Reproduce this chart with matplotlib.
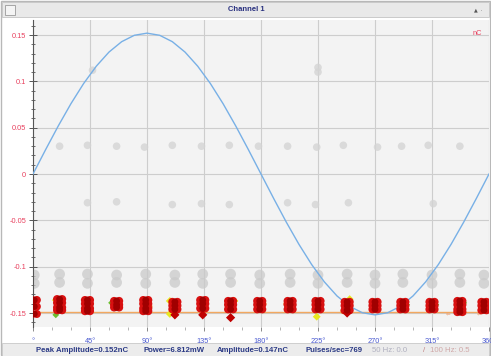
import matplotlib
matplotlib.use("Agg")
import matplotlib.pyplot as plt
from matplotlib.patches import Rectangle
from matplotlib.ticker import MultipleLocator

plt.rcParams["font.family"] = ["Liberation Sans", "DejaVu Sans"]

# ---------------- data ----------------
sine_phase = list(range(0, 361, 10))
sine_amp = [0.0, 0.0264, 0.0520, 0.0760, 0.0977, 0.1164, 0.1316, 0.1428, 0.1497, 0.152,
            0.1497, 0.1428, 0.1316, 0.1164, 0.0977, 0.0760, 0.0520, 0.0264, 0.0,
            -0.0264, -0.0520, -0.0760, -0.0977, -0.1164, -0.1316, -0.1428, -0.1497, -0.152,
            -0.1497, -0.1428, -0.1316, -0.1164, -0.0977, -0.0760, -0.0520, -0.0264, 0.0]

# faint grey pulses (upper rows)
gray_hi_phase = [21, 43, 66, 88, 110, 133, 155, 178, 201, 224, 245, 272, 291, 312, 337,
                 43, 66, 110, 133, 155, 201, 223, 249, 316,
                 47, 225, 225]
gray_hi_amp = [0.030, 0.031, 0.030, 0.029, 0.031, 0.030, 0.031, 0.030, 0.030, 0.029, 0.031, 0.029, 0.030, 0.031, 0.030,
               -0.031, -0.030, -0.033, -0.032, -0.033, -0.031, -0.033, -0.031, -0.032,
               0.112, 0.115, 0.110]
# denser grey pulses (lower row)
gray_lo_phase = [1, 21, 43, 66, 89, 112, 134, 156, 179, 203, 225, 248, 270, 292, 315, 337, 356,
                 1, 21, 43, 66, 89, 112, 134, 156, 179, 203, 225, 248, 270, 292, 315, 337, 356]
gray_lo_amp = [-0.109, -0.108, -0.108, -0.109, -0.108, -0.109, -0.108, -0.108, -0.109, -0.108, -0.109, -0.108, -0.109, -0.108, -0.109, -0.108, -0.109,
               -0.118, -0.117, -0.118, -0.117, -0.118, -0.117, -0.118, -0.117, -0.118, -0.117, -0.118, -0.117, -0.118, -0.117, -0.118, -0.117, -0.118]

red_phase = [1, 21, 43, 66, 89, 112, 134, 156, 179, 203, 225, 248, 270, 292, 315, 337, 356]
red_amps = [
    [-0.136, -0.143, -0.151],
    [-0.135, -0.139, -0.144, -0.147],
    [-0.136, -0.140, -0.145, -0.148],
    [-0.137, -0.141, -0.144],
    [-0.136, -0.140, -0.145, -0.148],
    [-0.138, -0.142, -0.146],
    [-0.136, -0.140, -0.145],
    [-0.137, -0.141, -0.146],
    [-0.137, -0.141, -0.146],
    [-0.137, -0.141, -0.146],
    [-0.137, -0.141, -0.146],
    [-0.138, -0.142, -0.147],
    [-0.138, -0.142, -0.146],
    [-0.138, -0.142, -0.146],
    [-0.138, -0.142, -0.146],
    [-0.137, -0.141, -0.146, -0.149],
    [-0.138, -0.142, -0.147],
]
red_low_phase = [112, 134, 156, 248]
red_low_amp = [-0.152, -0.152, -0.155, -0.150]

yellow_phase = [18, 41, 108, 108, 159, 224, 250]
yellow_amp = [-0.136, -0.148, -0.137, -0.151, -0.137, -0.154, -0.135]
green_phase = [18, 62, 295, 318, 340, 359]
green_amp = [-0.152, -0.139, -0.141, -0.141, -0.139, -0.141]
orange_phase = [92, 182, 200, 245]
orange_amp = [-0.143, -0.140, -0.140, -0.148]

threshold = -0.149

x_ticks = [0, 45, 90, 135, 180, 225, 270, 315, 360]
x_labels = ["°", "45°", "90°", "135°", "180°", "225°", "270°", "315°", "360°"]
y_ticks = [-0.15, -0.1, -0.05, 0, 0.05, 0.1, 0.15]
y_labels = ["-0.15", "-0.1", "-0.05", "0", "0.05", "0.1", "0.15"]

status_items = ["Peak Amplitude=0.152nC", "Power=6.812mW", "Amplitude=0.147nC", "Pulses/sec=769"]
status_faded = ["50 Hz: 0.0", "/", "100 Hz: 0.5"]

# ---------------- figure ----------------
W, H = 491, 356
fig = plt.figure(figsize=(W / 100, H / 100), dpi=100)
fig.patch.set_facecolor("white")

def fx(px):
    return px / W

def fy(py):
    return 1 - py / H

# window frame / title bar
fig.patches.append(Rectangle((fx(1), fy(355)), fx(489), 354 / H, transform=fig.transFigure,
                             facecolor="white", edgecolor="#b8b8b8", lw=1.0, zorder=-5))
fig.patches.append(Rectangle((fx(2), fy(17)), fx(487), 15 / H, transform=fig.transFigure,
                             facecolor="#e9e9e9", edgecolor="#c4c4c4", lw=0.6, zorder=-4))
fig.patches.append(Rectangle((fx(5), fy(15)), fx(10), 10 / H, transform=fig.transFigure,
                             facecolor="#f4f4f4", edgecolor="#9a9a9a", lw=0.6, zorder=-3))
fig.text(fx(246), fy(9.5), "Channel 1", color="#28307f", fontsize=5.5, fontweight="bold",
         ha="center", va="center")
fig.text(fx(478), fy(9.5), "▲  ·", color="#555555", fontsize=3.5, ha="center", va="center",
         family="DejaVu Sans")

# status bar
fig.patches.append(Rectangle((fx(2), fy(356)), fx(487), 13 / H, transform=fig.transFigure,
                             facecolor="#ececec", edgecolor="#c8c8c8", lw=0.6, zorder=-4))
status_x = [36, 143, 217, 305]
for t, x in zip(status_items, status_x):
    fig.text(fx(x), fy(350), t, color="#2b3a85", fontsize=5.6, fontweight="bold",
             ha="left", va="center")
faded_x = [372, 423, 430]
faded_c = ["#b0b0c0", "#c08080", "#d0a8a8"]
for t, x, c in zip(status_faded, faded_x, faded_c):
    fig.text(fx(x), fy(350), t, color=c, fontsize=5.6, ha="left", va="center")

# axes
ax = fig.add_axes([fx(33), fy(327), fx(456), 307 / H])
ax.set_zorder(2)
ax.set_facecolor("#f3f3f3")
ax.set_xlim(0, 360)
ax.set_ylim(-0.1651, 0.1662)

ax.set_xticks(x_ticks)
ax.set_xticklabels(x_labels)
ax.set_yticks(y_ticks)
ax.set_yticklabels(y_labels)
ax.xaxis.set_minor_locator(MultipleLocator(15))
ax.yaxis.set_minor_locator(MultipleLocator(0.01))
ax.grid(True, which="major", color="#cdcdcd", lw=0.8)
ax.set_axisbelow(True)

ax.tick_params(axis="y", which="major", direction="inout", length=6, width=0.7,
               color="#555555", labelsize=5.3, labelcolor="#e8405e", pad=2)
ax.tick_params(axis="y", which="minor", direction="inout", length=3, width=0.6, color="#555555")
ax.tick_params(axis="x", which="major", direction="out", length=3, width=0.6,
               color="#777777", labelsize=5.3, labelcolor="#4a5ad0", pad=5)
ax.tick_params(axis="x", which="minor", direction="out", length=2, width=0.5, color="#999999")

for s in ["top", "right", "bottom"]:
    ax.spines[s].set_visible(False)
ax.spines["left"].set_color("#555555")
ax.spines["left"].set_linewidth(0.8)

ax.text(0.985, 0.955, "nC", transform=ax.transAxes, color="#e8405e", fontsize=5.3,
        ha="right", va="center")

# grey scatter
ax.scatter(gray_hi_phase, gray_hi_amp, s=30, c="#d4d4d4", alpha=0.8, edgecolors="none", zorder=2)
ax.scatter(gray_lo_phase, gray_lo_amp, s=60, c="#cacaca", alpha=0.75, edgecolors="none", zorder=2)

# threshold line
ax.axhline(threshold, color="#f2a860", lw=1.0, zorder=3)
for xx in [328, 340, 352]:
    ax.text(xx, threshold - 0.0015, "⇐", color="#f0a070", fontsize=4, ha="center", va="center",
            zorder=3, family="DejaVu Sans")

# sine reference
ax.plot(sine_phase, sine_amp, color="#78b0e6", lw=1.0, zorder=4)

# red clusters
for p, amps in zip(red_phase, red_amps):
    for a in amps:
        ax.scatter([p - 2.0, p + 2.0], [a, a], s=34, c="#d81010", edgecolors="none", zorder=5)
        ax.scatter([p], [a], s=24, c="#a00000", edgecolors="none", zorder=6)
ax.scatter(red_low_phase, red_low_amp, s=22, c="#c00000", marker="D", edgecolors="none", zorder=5)

ax.scatter(yellow_phase, yellow_amp, s=16, c="#e8e820", marker="D", edgecolors="none", zorder=4.5)
ax.scatter(green_phase, green_amp, s=12, c="#6cc030", marker="D", edgecolors="none", zorder=4.5)
ax.scatter(orange_phase, orange_amp, s=18, c="#f08020", edgecolors="none", zorder=4.5)

fig.savefig("out.png", dpi=100)
